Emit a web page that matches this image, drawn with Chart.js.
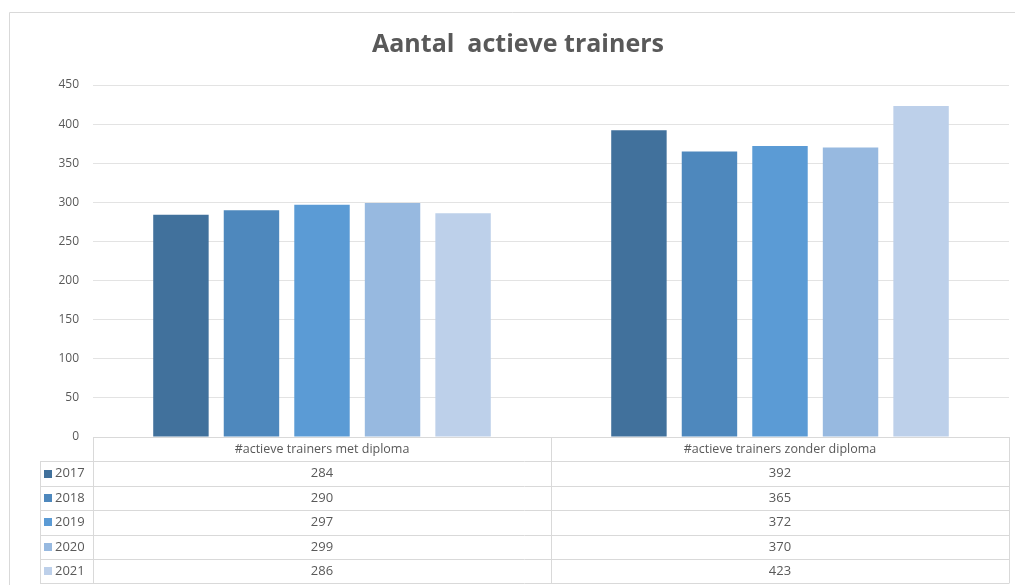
<!DOCTYPE html>
<html>
<head>
<meta charset="utf-8">
<script src="https://cdn.jsdelivr.net/npm/chart.js@4/dist/chart.umd.min.js"></script>
<style>
  html, body { margin: 0; padding: 0; background: #ffffff; }
  #wrap { width: 1015px; height: 585px; }
</style>
</head>
<body>
<div id="wrap"><canvas id="trainerChart" width="1015" height="585"></canvas></div>
<script>
// Chart data
const chartTitle = "Aantal  actieve trainers";
const categories = ["#actieve trainers met diploma", "#actieve trainers zonder diploma"];
const years = ["2017", "2018", "2019", "2020", "2021"];
const values2017 = [284, 392];
const values2018 = [290, 365];
const values2019 = [297, 372];
const values2020 = [299, 370];
const values2021 = [286, 423];
const yTicks = [0, 50, 100, 150, 200, 250, 300, 350, 400, 450];

const seriesValues = [values2017, values2018, values2019, values2020, values2021];
const yearColors = ["#41719c", "#4e88bd", "#5b9bd5", "#97b9e0", "#bdd0ea"];

const textColor = "#595959";
const lineColor = "#d9d9d9";
const fontFamily = "'Open Sans', 'Noto Sans', sans-serif";

// Excel style frame, title and data table below the plot
const excelExtras = {
  id: 'excelExtras',
  afterDraw(chart) {
    const ctx = chart.ctx;
    const area = chart.chartArea;
    const x = chart.scales.x;
    ctx.save();

    // outer chart border
    ctx.strokeStyle = lineColor;
    ctx.lineWidth = 1;
    ctx.beginPath();
    ctx.moveTo(9.5, chart.height);
    ctx.lineTo(9.5, 12.5);
    ctx.lineTo(chart.width, 12.5);
    ctx.stroke();

    // title
    ctx.fillStyle = textColor;
    ctx.font = "bold 25px " + fontFamily;
    ctx.textAlign = "center";
    ctx.textBaseline = "middle";
    ctx.fillText(chartTitle, 518, 45);

    // data table
    const rowH = 24.4;
    const top = area.bottom;
    const legendLeft = 40;
    const mid = (x.getPixelForValue(0) + x.getPixelForValue(1)) / 2;
    const cols = [area.left, mid, area.right];

    ctx.strokeStyle = lineColor;
    ctx.beginPath();
    // header row
    ctx.moveTo(area.left, top + 0.5);
    ctx.lineTo(area.right, top + 0.5);
    for (let r = 1; r <= years.length + 1; r++) {
      const y = Math.round(top + r * rowH) + 0.5;
      ctx.moveTo(legendLeft, y);
      ctx.lineTo(area.right, y);
    }
    const bottom = Math.round(top + (years.length + 1) * rowH) + 0.5;
    cols.forEach(cx => {
      ctx.moveTo(Math.round(cx) + 0.5, top);
      ctx.lineTo(Math.round(cx) + 0.5, bottom);
    });
    ctx.moveTo(legendLeft + 0.5, Math.round(top + rowH));
    ctx.lineTo(legendLeft + 0.5, bottom);
    ctx.stroke();

    ctx.font = "12.5px " + fontFamily;
    ctx.fillStyle = textColor;
    ctx.textAlign = "center";
    categories.forEach((cat, i) => {
      ctx.fillText(cat, x.getPixelForValue(i), top + rowH / 2);
    });

    years.forEach((year, r) => {
      const cy = top + (r + 1.5) * rowH;
      ctx.fillStyle = yearColors[r];
      ctx.fillRect(44, Math.round(cy) - 4, 8, 8);
      ctx.fillStyle = textColor;
      ctx.font = "13px " + fontFamily;
      ctx.textAlign = "left";
      ctx.fillText(year, 55, cy);
      ctx.textAlign = "center";
      seriesValues[r].forEach((v, i) => {
        ctx.fillText(String(v), x.getPixelForValue(i), cy);
      });
    });

    ctx.restore();
  }
};

const datasets = years.map((year, i) => ({
  label: year,
  data: seriesValues[i],
  backgroundColor: yearColors[i],
  borderWidth: 0,
  categoryPercentage: 0.77,
  barPercentage: 0.786
}));

new Chart(document.getElementById('trainerChart'), {
  type: 'bar',
  data: { labels: categories, datasets: datasets },
  options: {
    responsive: false,
    animation: false,
    layout: { padding: { top: 85, bottom: 148, left: 0, right: 6 } },
    plugins: {
      legend: { display: false },
      title: { display: false },
      tooltip: { enabled: false }
    },
    scales: {
      x: { display: false },
      y: {
        min: 0,
        max: 450,
        afterFit(scale) { scale.width = 93; },
        afterBuildTicks(scale) { scale.ticks = yTicks.map(v => ({ value: v })); },
        border: { display: false },
        grid: { color: "#e3e3e3", drawTicks: false },
        ticks: {
          padding: 14,
          color: textColor,
          font: { family: fontFamily, size: 12 }
        }
      }
    }
  },
  plugins: [excelExtras]
});
</script>
</body>
</html>
